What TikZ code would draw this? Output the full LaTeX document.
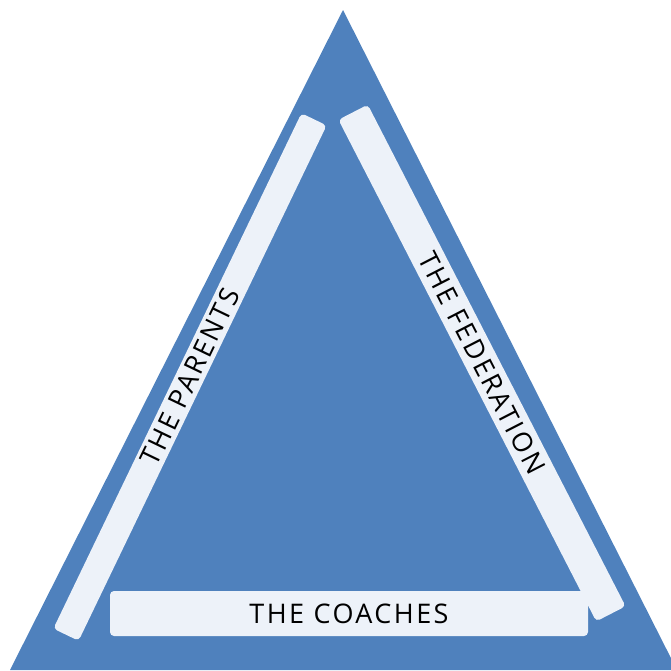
\documentclass[tikz,border=0pt]{standalone}
\usepackage{fontspec}
\setmainfont{Open Sans}[LetterSpace=9]
\definecolor{triblue}{HTML}{4F81BD}
\definecolor{barfill}{HTML}{EDF2F9}
\begin{document}
\begin{tikzpicture}[x=1pt,y=-1pt,
  bar/.style={fill=barfill, draw=none, rounded corners=4pt, inner sep=0pt,
    font=\fontsize{27}{27}\selectfont, text=black}]
\useasboundingbox (0,0) rectangle (671,670);
\fill[triblue] (343,10) -- (677,670) -- (10,670) -- cycle;
\node[bar, minimum width=478pt, minimum height=45pt] (coaches) at (349,613.5) {THE COACHES};
\node[bar, minimum width=572pt, minimum height=28pt, rotate=64.3] (parents) at (190,377) {THE PARENTS};
\node[bar, minimum width=564pt, minimum height=33pt, rotate=-62.8] (federation) at (482,363) {THE FEDERATION};
\end{tikzpicture}
\end{document}
